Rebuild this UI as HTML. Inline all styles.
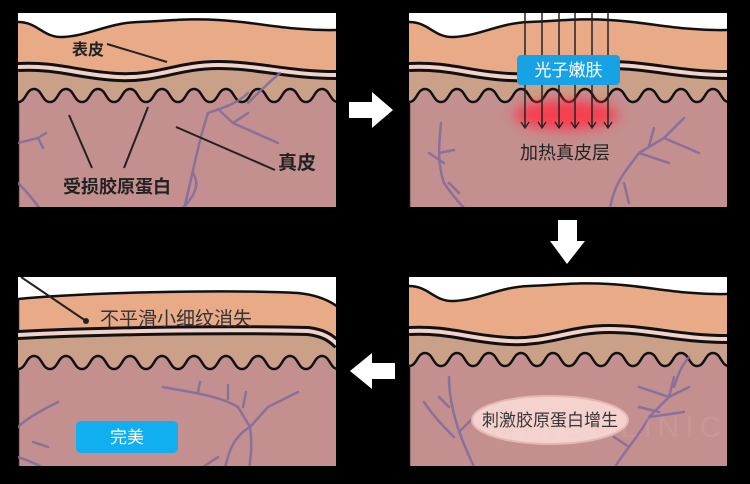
<!DOCTYPE html>
<html><head><meta charset="utf-8">
<style>
html,body{margin:0;padding:0;background:#000;}
svg{display:block;}
text{font-family:"Liberation Sans","Noto Sans CJK SC",sans-serif;}
</style></head>
<body>
<svg width="750" height="484" viewBox="0 0 750 484" xmlns="http://www.w3.org/2000/svg">
<defs>
  <clipPath id="c1"><rect x="0" y="0" width="318" height="194"/></clipPath>
  <clipPath id="c2"><rect x="0" y="0" width="318" height="189"/></clipPath>
  <filter id="blur" x="-50%" y="-50%" width="200%" height="200%"><feGaussianBlur stdDeviation="6"/></filter>
  <g id="skin">
    <rect x="0" y="0" width="318" height="200" fill="#fff"/>
    <path d="M0,9 C20,9 25,25 45,24 C70,23 90,10 120,9 C150,8 170,5 200,7 C240,9 270,18 318,17 L318,200 L0,200 Z" fill="#e9aa88"/>
    <path d="M0,9 C20,9 25,25 45,24 C70,23 90,10 120,9 C150,8 170,5 200,7 C240,9 270,18 318,17" fill="none" stroke="#111" stroke-width="2.5"/>
    <path d="M0,58 C40,56 60,66 100,68 C140,70 160,56 200,56 C240,56 270,66 318,66 L318,200 L0,200 Z" fill="#caa088"/>
    <path d="M0,89 c8,0 8,-13 16,-13 c8,0 8,13 16,13 c8,0 8,-13 16,-13 c8,0 8,13 16,13 c8,0 8,-13 16,-13 c8,0 8,13 16,13 c8,0 8,-13 16,-13 c8,0 8,13 16,13 c8,0 8,-13 16,-13 c8,0 8,13 16,13 c8,0 8,-13 16,-13 c8,0 8,13 16,13 c8,0 8,-13 16,-13 c8,0 8,13 16,13 c8,0 8,-13 16,-13 c8,0 8,13 16,13 c8,0 8,-13 16,-13 c8,0 8,13 16,13 c8,0 8,-13 16,-13 c8,0 8,13 16,13 L320,200 L0,200 Z" fill="#c48f8f" stroke="#111" stroke-width="2.5"/>
    <path d="M0,54 C40,52 60,62 100,64 C140,66 160,52 200,52 C240,52 270,62 318,62" fill="none" stroke="#111" stroke-width="10"/>
    <path d="M0,54 C40,52 60,62 100,64 C140,66 160,52 200,52 C240,52 270,62 318,62" fill="none" stroke="#f3d2cc" stroke-width="4"/>
  </g>
</defs>

<!-- Top-left panel -->
<g transform="translate(18,13)" clip-path="url(#c1)">
  <use href="#skin"/>
  <g fill="none" stroke="#7f6c9e" stroke-width="2.5" stroke-linecap="round" opacity="0.85">
    <path d="M190,100 C180,130 175,160 165,200 M190,100 C205,95 220,90 230,80 M200,96 L215,110 L260,130 M215,110 L230,100 M230,90 C240,80 250,70 262,60 M175,160 C185,175 170,190 160,200"/>
    <path d="M0,130 L20,125 L28,120 M20,125 L25,135 M0,170 C10,180 18,190 25,200"/>
  </g>
  <g stroke="#222" stroke-width="2">
    <line x1="89" y1="31" x2="149" y2="49"/>
    <line x1="51" y1="102" x2="74" y2="155"/>
    <line x1="130" y1="94" x2="106" y2="155"/>
    <line x1="158" y1="114" x2="257" y2="157"/>
  </g>
  <text x="54" y="42" font-size="16" font-weight="bold" fill="#222">表皮</text>
  <text x="260" y="156" font-size="19" font-weight="bold" fill="#222">真皮</text>
  <text x="45" y="180" font-size="18" font-weight="bold" fill="#222">受损胶原蛋白</text>
</g>

<!-- Top-right panel -->
<g transform="translate(409,13)" clip-path="url(#c1)">
  <use href="#skin"/>
  <g fill="none" stroke="#7f6c9e" stroke-width="2.5" stroke-linecap="round" opacity="0.85">
    <path d="M32,110 C30,130 28,150 35,170 C45,185 55,195 60,200 M35,150 L20,140 M30,140 L45,137 M50,180 L40,170"/>
    <path d="M200,200 C205,170 215,160 230,140 L255,125 L275,105 M230,140 L260,150 M240,133 L245,115 M215,170 L220,190 M255,125 L290,140"/>
  </g>
  <ellipse cx="157" cy="102" rx="52" ry="15" fill="#ff3344" opacity="0.85" filter="url(#blur)"/>
  <g stroke="#222" stroke-width="1.5">
    <line x1="116" y1="0" x2="116" y2="114"/><line x1="133" y1="0" x2="133" y2="114"/>
    <line x1="150" y1="0" x2="150" y2="114"/><line x1="166" y1="0" x2="166" y2="114"/>
    <line x1="183" y1="0" x2="183" y2="114"/><line x1="199" y1="0" x2="199" y2="114"/>
  </g>
  <g fill="none" stroke="#222" stroke-width="1.3">
    <path d="M112,109 L116,115 L120,109 M129,109 L133,115 L137,109 M146,109 L150,115 L154,109 M162,109 L166,115 L170,109 M179,109 L183,115 L187,109 M195,109 L199,115 L203,109"/>
  </g>
  <rect x="108" y="42" width="103" height="30" rx="4" fill="#18a2e6"/>
  <text x="159.5" y="63" font-size="17" fill="#fff" text-anchor="middle">光子嫩肤</text>
  <text x="156" y="146" font-size="18" fill="#222" text-anchor="middle">加热真皮层</text>
</g>

<!-- Bottom-right panel -->
<g transform="translate(409,277)" clip-path="url(#c2)">
  <use href="#skin"/>
  <g fill="none" stroke="#7f6c9e" stroke-width="2.5" stroke-linecap="round" opacity="0.85">
    <path d="M40,100 C40,130 50,160 70,200 M40,130 L30,120 M50,155 L65,140 L75,142 M15,125 C25,140 35,150 45,160"/>
    <path d="M200,200 C210,180 230,160 240,140 L260,120 L265,100 M240,140 L275,135 M260,120 L280,110 M250,135 L230,130 M260,120 L230,110 M265,110 C270,95 272,90 280,80 M220,170 L205,160"/>
  </g>
  <ellipse cx="141" cy="143" rx="78" ry="24" fill="#f4d2ce" stroke="#e6b8b4" stroke-width="2"/>
  <text x="141" y="149" font-size="17" fill="#333" text-anchor="middle">刺激胶原蛋白增生</text>
  <text x="200" y="160" font-size="30" fill="#e8c8c8" opacity="0.12" text-anchor="middle" letter-spacing="6">MINOCLINIC</text>
</g>

<!-- Bottom-left panel -->
<g transform="translate(18,277)" clip-path="url(#c2)">
  <rect x="0" y="0" width="318" height="189" fill="#fff"/>
  <path d="M0,22 C60,16 200,12 280,16 C300,18 312,24 320,30 L320,200 L0,200 Z" fill="#e9aa88" stroke="#111" stroke-width="2.5"/>
  <path d="M0,63 C80,59 200,57 290,59 C305,61 312,65 318,73 L318,200 L0,200 Z" fill="#caa088"/>
  <path d="M0,92 c8,0 8,-13 16,-13 c8,0 8,13 16,13 c8,0 8,-13 16,-13 c8,0 8,13 16,13 c8,0 8,-13 16,-13 c8,0 8,13 16,13 c8,0 8,-13 16,-13 c8,0 8,13 16,13 c8,0 8,-13 16,-13 c8,0 8,13 16,13 c8,0 8,-13 16,-13 c8,0 8,13 16,13 c8,0 8,-13 16,-13 c8,0 8,13 16,13 c8,0 8,-13 16,-13 c8,0 8,13 16,13 c8,0 8,-13 16,-13 c8,0 8,13 16,13 c8,0 8,-13 16,-13 c8,0 8,13 16,13 L320,200 L0,200 Z" fill="#c48f8f" stroke="#111" stroke-width="2.5"/>
  <path d="M0,58 C80,54 200,52 290,54 C305,56 312,60 320,68" fill="none" stroke="#111" stroke-width="10"/>
  <path d="M0,58 C80,54 200,52 290,54 C305,56 312,60 320,68" fill="none" stroke="#f3d2cc" stroke-width="4"/>
  <g fill="none" stroke="#7f6c9e" stroke-width="2.5" stroke-linecap="round" opacity="0.85">
    <path d="M145,110 C170,115 200,118 220,130 L232,150 L250,130 L280,115 M180,115 L182,105 M210,122 L210,108 M225,130 L228,115 M232,150 C235,170 232,185 230,200 M232,150 C215,160 210,175 205,200 M200,180 L185,190"/>
    <path d="M0,150 C10,140 30,130 40,125 M0,180 C15,185 25,190 40,200 M15,165 L30,170"/>
  </g>
  <line x1="3" y1="0" x2="68" y2="44" stroke="#222" stroke-width="2"/>
  <circle cx="68" cy="44" r="3" fill="#222"/>
  <text x="82" y="48" font-size="19" fill="#333">不平滑小细纹消失</text>
  <rect x="58" y="144" width="102" height="32" rx="5" fill="#11aef0"/>
  <text x="109" y="166" font-size="17" fill="#fff" text-anchor="middle">完美</text>
</g>

<!-- Arrows -->
<polygon points="349,102 372,102 372,92 393,110 372,128 372,118 349,118" fill="#fff"/>
<polygon points="558,220 577,220 577,241 585,241 567,264 550,241 558,241" fill="#fff"/>
<polygon points="395,363 372,363 372,353 350,371 372,389 372,379 395,379" fill="#fff"/>
</svg>
</body></html>
